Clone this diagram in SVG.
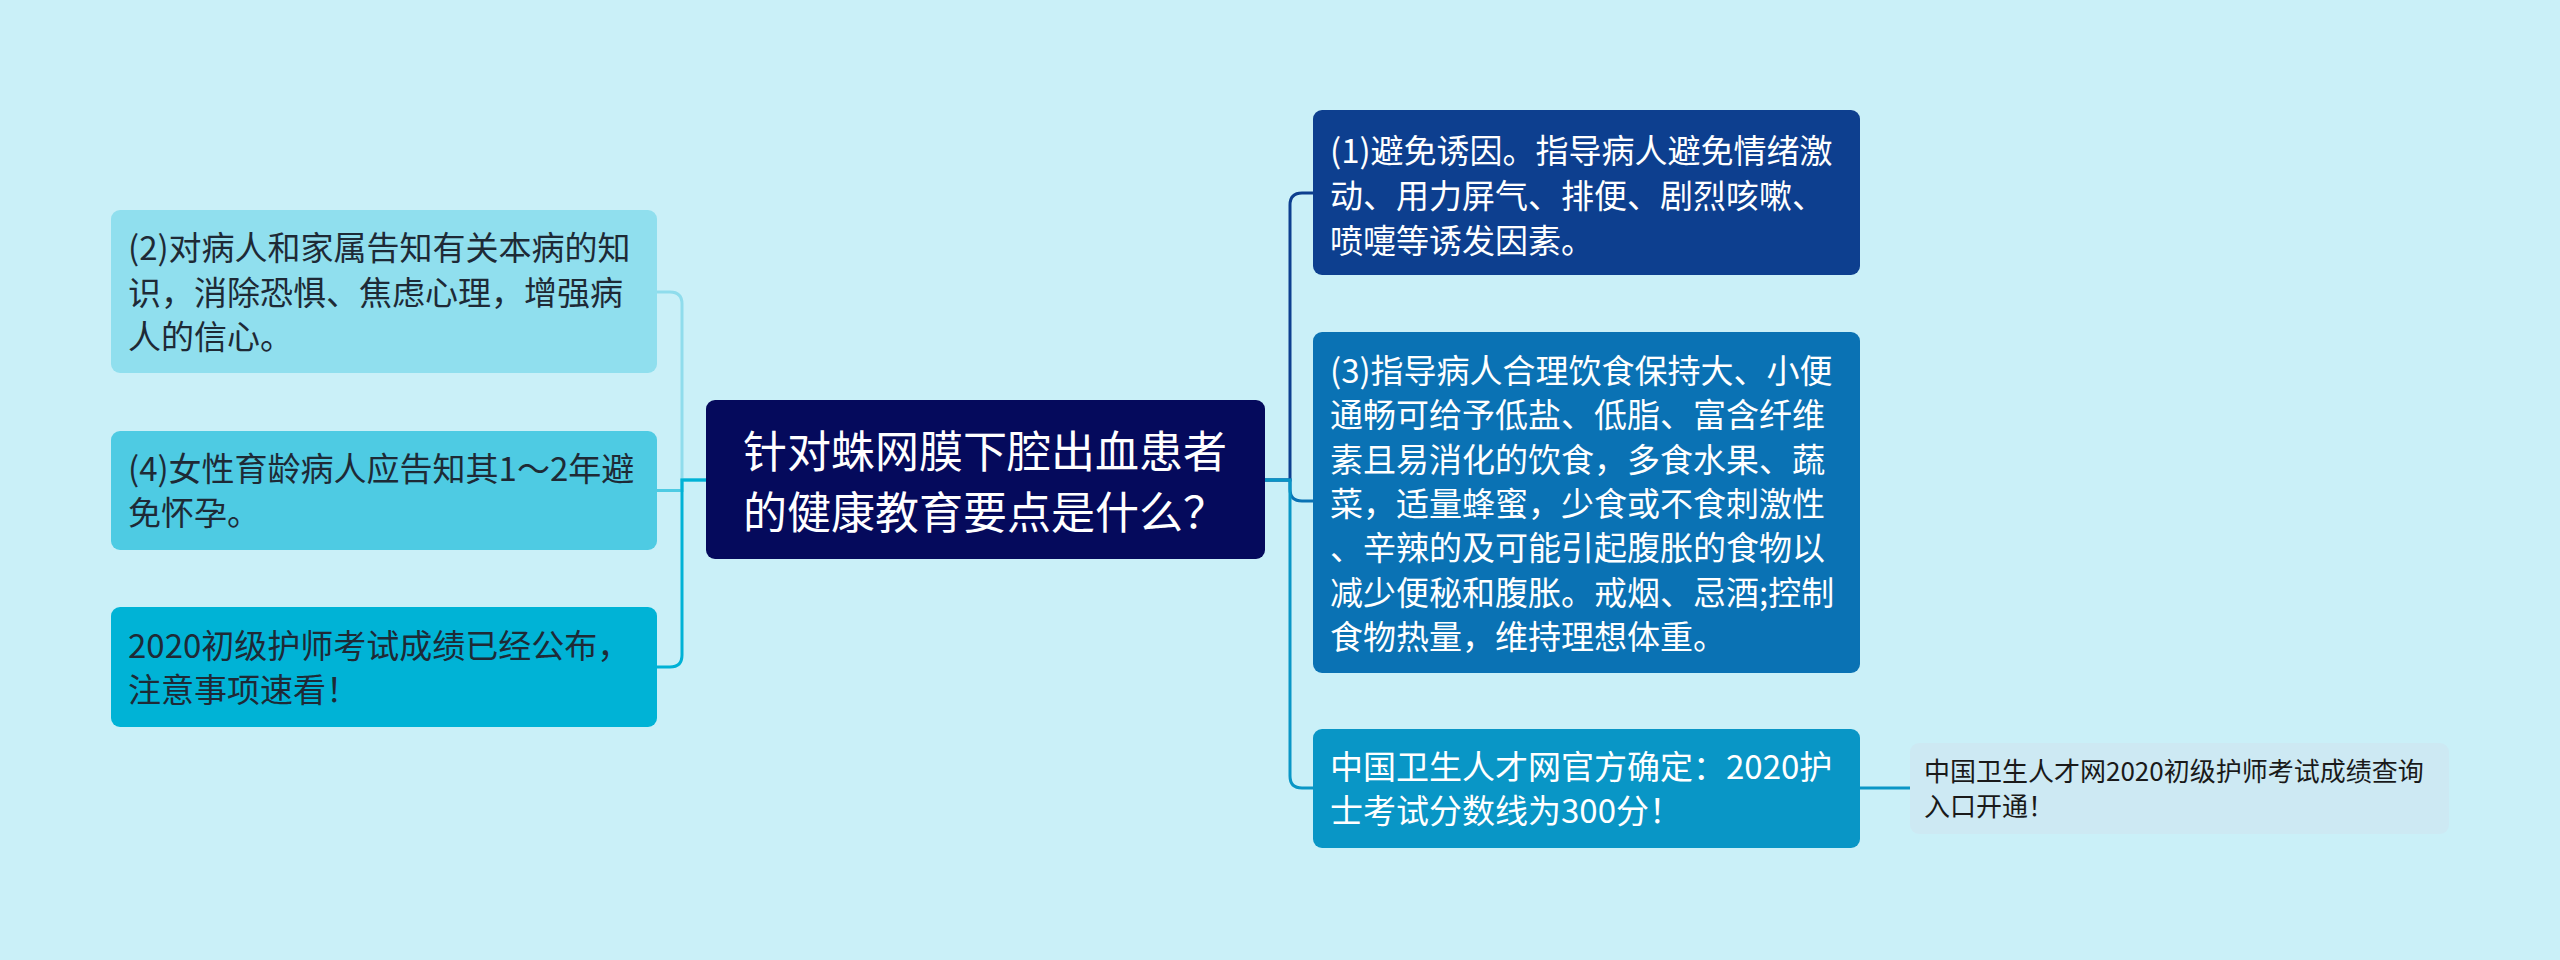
<svg xmlns="http://www.w3.org/2000/svg" width="2560" height="960" viewBox="0 0 2560 960">
  <style>
    .t { font-family: 'Noto Sans CJK SC', 'Noto Sans', sans-serif; font-size: 33px; }
    .dark { fill: #1e2a36; }
    .light { fill: #ffffff; }
    .center { font-size: 44px; }
    .leaf { font-size: 26px; fill: #1a1a1a; }
    .conn { fill: none; stroke-width: 3; }
  </style>
  <rect x="0" y="0" width="2560" height="960" fill="#caf0f8"/>

  <g id="connectors">
    <path class="conn" stroke="#8fdcec" d="M707,480 H682 V304 Q682,292 670,292 H657"/>
    <path class="conn" stroke="#4ecbe3" d="M707,480 H682 V490.5 H657"/>
    <path class="conn" stroke="#00b2d6" d="M707,480 H682 V655 Q682,667 670,667 H657"/>
    <path class="conn" stroke="#0d3f8f" d="M1265,480 H1290 V205 Q1290,193 1302,193 H1313"/>
    <path class="conn" stroke="#0a72b4" d="M1265,480 H1290 V489 Q1290,501 1302,501 H1313"/>
    <path class="conn" stroke="#0996c6" d="M1265,480 H1290 V776 Q1290,788 1302,788 H1313"/>
    <path class="conn" stroke="#0996c6" d="M1859,788 H1910"/>
  </g>

  <g id="node-center">
    <rect x="706" y="400" width="559" height="159" rx="9" fill="#050a5c"/>
    <text class="t light center" x="743" y="468">针对蛛网膜下腔出血患者</text>
    <text class="t light center" x="743" y="529">的健康教育要点是什么？</text>
  </g>

  <g id="node-2">
    <rect x="111" y="210" width="546" height="163" rx="9" fill="#90dfee"/>
    <text class="t dark">
      <tspan x="128" y="260">(2)对病人和家属告知有关本病的知</tspan>
      <tspan x="128" y="304.5">识，消除恐惧、焦虑心理，增强病</tspan>
      <tspan x="128" y="349">人的信心。</tspan>
    </text>
  </g>

  <g id="node-4">
    <rect x="111" y="431" width="546" height="119" rx="9" fill="#4ecbe3"/>
    <text class="t dark">
      <tspan x="128" y="481">(4)女性育龄病人应告知其1～2年避</tspan>
      <tspan x="128" y="525">免怀孕。</tspan>
    </text>
  </g>

  <g id="node-2020">
    <rect x="111" y="607" width="546" height="120" rx="9" fill="#00b3d6"/>
    <text class="t dark">
      <tspan x="128" y="657.5">2020初级护师考试成绩已经公布，</tspan>
      <tspan x="128" y="701.5">注意事项速看！</tspan>
    </text>
  </g>

  <g id="node-1">
    <rect x="1313" y="110" width="547" height="165" rx="9" fill="#0d3f8f"/>
    <text class="t light">
      <tspan x="1330" y="162.5">(1)避免诱因。指导病人避免情绪激</tspan>
      <tspan x="1330" y="207.5">动、用力屏气、排便、剧烈咳嗽、</tspan>
      <tspan x="1330" y="252.5">喷嚏等诱发因素。</tspan>
    </text>
  </g>

  <g id="node-3">
    <rect x="1313" y="332" width="547" height="341" rx="9" fill="#0a72b4"/>
    <text class="t light">
      <tspan x="1330" y="383">(3)指导病人合理饮食保持大、小便</tspan>
      <tspan x="1330" y="427.3">通畅可给予低盐、低脂、富含纤维</tspan>
      <tspan x="1330" y="471.6">素且易消化的饮食，多食水果、蔬</tspan>
      <tspan x="1330" y="515.9">菜，适量蜂蜜，少食或不食刺激性</tspan>
      <tspan x="1330" y="560.2">、辛辣的及可能引起腹胀的食物以</tspan>
      <tspan x="1330" y="604.5">减少便秘和腹胀。戒烟、忌酒;控制</tspan>
      <tspan x="1330" y="648.8">食物热量，维持理想体重。</tspan>
    </text>
  </g>

  <g id="node-wsrc">
    <rect x="1313" y="729" width="547" height="119" rx="9" fill="#0996c6"/>
    <text class="t light">
      <tspan x="1330" y="779">中国卫生人才网官方确定：2020护</tspan>
      <tspan x="1330" y="823">士考试分数线为300分！</tspan>
    </text>
  </g>

  <g id="node-leaf">
    <rect x="1910" y="743" width="539" height="91" rx="9" fill="#cde9f3"/>
    <text class="t leaf">
      <tspan x="1924" y="781">中国卫生人才网2020初级护师考试成绩查询</tspan>
      <tspan x="1924" y="816">入口开通！</tspan>
    </text>
  </g>
</svg>
